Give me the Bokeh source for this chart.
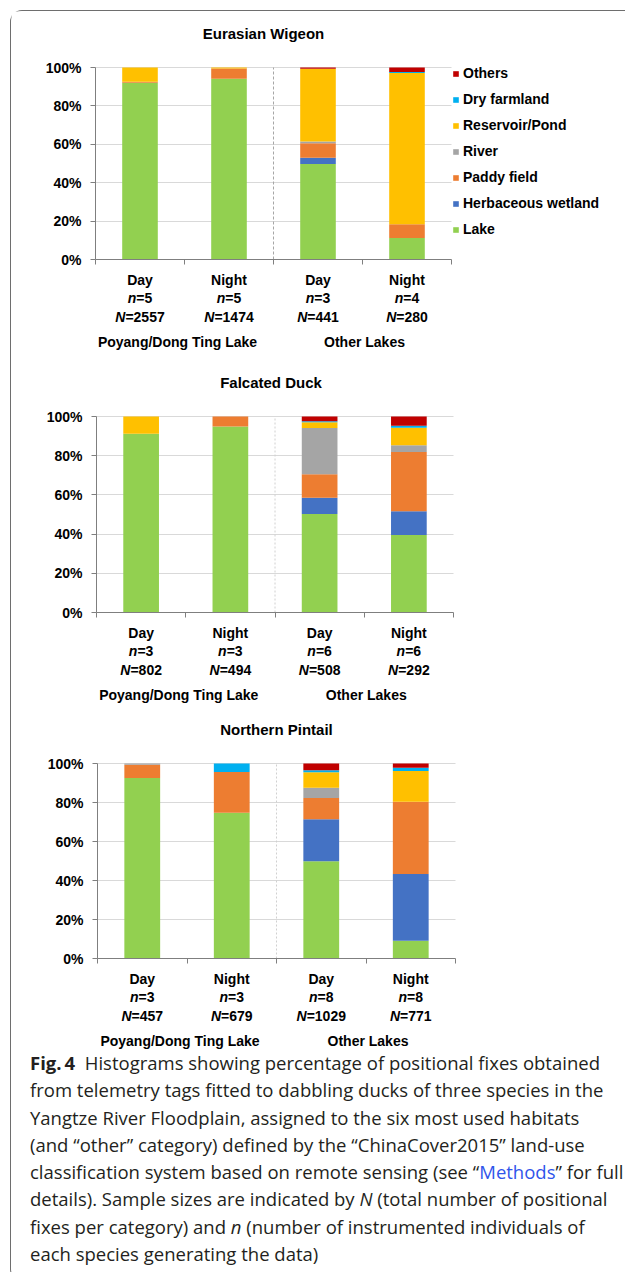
from bokeh.plotting import figure
from bokeh.models import (ColumnDataSource, Range1d, FixedTicker, PrintfTickFormatter,
                          Legend, LegendItem, LinearAxis, Grid, Div)
from bokeh.layouts import column
from bokeh.core.properties import value
from bokeh.embed import file_html
from bokeh.resources import INLINE

# ---------------------------------------------------------------- data
habitats = ["Lake", "Herbaceous wetland", "Paddy field", "River",
            "Reservoir/Pond", "Dry farmland", "Others"]
colors = ["#92D050", "#4472C4", "#ED7D31", "#A5A5A5", "#FFC000", "#00B0F0", "#C00000"]

periods = ["Day", "Night", "Day", "Night"]
groups = ["Poyang/Dong Ting Lake", "Other Lakes"]
y_ticks = [0, 20, 40, 60, 80, 100]

# Eurasian Wigeon: % of positional fixes per habitat
wigeon_lake = [92.0, 94.2, 49.7, 11.2]
wigeon_herb = [0.0, 0.0, 3.3, 0.0]
wigeon_paddy = [0.6, 5.3, 7.6, 7.2]
wigeon_river = [0.0, 0.0, 0.8, 0.0]
wigeon_reservoir = [7.4, 0.5, 37.9, 78.8]
wigeon_dry = [0.0, 0.0, 0.0, 0.4]
wigeon_others = [0.0, 0.0, 0.7, 2.4]
wigeon_n = [5, 5, 3, 4]
wigeon_N = [2557, 1474, 441, 280]

# Falcated Duck
falcated_lake = [91.2, 94.9, 50.3, 39.5]
falcated_herb = [0.0, 0.0, 8.3, 12.1]
falcated_paddy = [0.0, 5.1, 11.9, 30.3]
falcated_river = [0.0, 0.0, 23.6, 3.4]
falcated_reservoir = [8.8, 0.0, 3.0, 9.0]
falcated_dry = [0.0, 0.0, 0.5, 1.0]
falcated_others = [0.0, 0.0, 2.4, 4.7]
falcated_n = [3, 3, 6, 6]
falcated_N = [802, 494, 508, 292]

# Northern Pintail
pintail_lake = [92.6, 74.7, 49.9, 9.1]
pintail_herb = [0.0, 0.0, 21.5, 34.2]
pintail_paddy = [6.8, 20.9, 10.9, 37.1]
pintail_river = [0.6, 0.0, 5.3, 0.0]
pintail_reservoir = [0.0, 0.0, 7.9, 15.7]
pintail_dry = [0.0, 4.4, 1.0, 1.7]
pintail_others = [0.0, 0.0, 3.5, 2.2]
pintail_n = [3, 3, 8, 8]
pintail_N = [457, 679, 1029, 771]

# ---------------------------------------------------------------- helpers
FONT = "Liberation Sans"
FIG_W = 614
KEYS = ["h%d" % i for i in range(len(habitats))]
NCAT = len(periods)
XPOS = [i + 0.5 for i in range(NCAT)]
GROUP_EDGE = NCAT / len(groups)
GROUP_MID = [GROUP_EDGE * (i + 0.5) for i in range(len(groups))]

# Arial / Liberation Sans bold advance widths (em) for centring split labels
ADV = {"n": 0.611, "N": 0.722, "=": 0.584}
ADV.update({d: 0.556 for d in "0123456789"})


def split_offset(letter, rest, size=14):
    wl = ADV[letter] * size
    wr = sum(ADV[c] for c in rest) * size
    return -(wl + wr) / 2 + wl


def panel(title, series, n_vals, N_vals, height, left, right, top, bottom,
          title_dx, sep_color, sep_dash, legend_at=None):
    """left/right: canvas x of category edges 0 and NCAT;
    top/bottom: canvas y of 100% and 0%."""
    ppx = (right - left) / NCAT
    ppu = (bottom - top) / 100.0
    x0 = -left / ppx
    y1 = 100 + top / ppu
    p = figure(width=FIG_W, height=height,
               x_range=Range1d(x0, x0 + FIG_W / ppx),
               y_range=Range1d(y1 - height / ppu, y1),
               x_axis_type=None, y_axis_type=None,
               min_border=0, output_backend="svg", toolbar_location=None)
    p.outline_line_color = None
    p.background_fill_color = "white"
    p.border_fill_color = "white"

    # horizontal gridlines limited to the category span
    p.add_layout(Grid(dimension=1, ticker=FixedTicker(ticks=y_ticks[1:]),
                      grid_line_color="#D9D9D9", cross_bounds=(0, NCAT)))

    ya = LinearAxis(fixed_location=0, bounds=(0, 100),
                    ticker=FixedTicker(ticks=y_ticks),
                    formatter=PrintfTickFormatter(format="%d%%"),
                    major_label_text_font=FONT, major_label_text_font_style="bold",
                    major_label_text_font_size="14px", major_label_text_color="black",
                    major_tick_out=5, major_tick_in=0, minor_tick_line_color=None,
                    major_label_standoff=9, axis_line_color="#7F7F7F",
                    major_tick_line_color="#7F7F7F")
    p.add_layout(ya, "left")
    xa = LinearAxis(fixed_location=0, bounds=(0, NCAT),
                    ticker=FixedTicker(ticks=list(range(NCAT + 1))),
                    major_label_text_font_size="0px", major_label_text_alpha=0,
                    major_tick_out=5, major_tick_in=0, minor_tick_line_color=None,
                    axis_line_color="#7F7F7F", major_tick_line_color="#7F7F7F")
    p.add_layout(xa, "below")

    # dashed divider between the two lake groups
    p.segment(x0=[GROUP_EDGE], y0=[0], x1=[GROUP_EDGE], y1=[100],
              line_color=sep_color, line_dash=sep_dash, line_width=1)

    data = {"x": XPOS}
    for k, vals in zip(KEYS, series):
        data[k] = vals
    rs = p.vbar_stack(KEYS, x="x", width=0.4, color=colors,
                      source=ColumnDataSource(data), line_width=0)

    # species title
    p.text(x=[NCAT / 2 + title_dx / ppx], y=[100 + 34 / ppu], text=[title],
           text_align="center", text_baseline="middle", text_font=value(FONT),
           text_font_style="bold", text_font_size=value("15px"), text_color="black")

    # category labels below the axis
    common = dict(text_baseline="middle", text_font=value(FONT),
                  text_font_size=value("14px"), text_color="black")
    n_rest = ["=%d" % v for v in n_vals]
    N_rest = ["=%d" % v for v in N_vals]
    lbl = ColumnDataSource(dict(
        x=XPOS, y_period=[-20 / ppu] * NCAT, y_n=[-38 / ppu] * NCAT, y_N=[-57 / ppu] * NCAT,
        period=periods,
        n_letter=["n"] * NCAT, n_rest=n_rest, n_off=[split_offset("n", r) for r in n_rest],
        N_letter=["N"] * NCAT, N_rest=N_rest, N_off=[split_offset("N", r) for r in N_rest],
    ))
    p.text(x="x", y="y_period", text="period", source=lbl, text_align="center",
           text_font_style="bold", **common)
    for letter, rest, off, yy in (("n_letter", "n_rest", "n_off", "y_n"),
                                  ("N_letter", "N_rest", "N_off", "y_N")):
        p.text(x="x", y=yy, text=letter, x_offset=off, source=lbl, text_align="right",
               text_font_style="bold italic", **common)
        p.text(x="x", y=yy, text=rest, x_offset=off, source=lbl, text_align="left",
               text_font_style="bold", **common)

    gsrc = ColumnDataSource(dict(x=GROUP_MID, y=[-82 / ppu] * len(groups), text=groups,
                                 dx=[-7, 2]))
    p.text(x="x", y="y", text="text", x_offset="dx", source=gsrc, text_align="center",
           text_font_style="bold", **common)

    if legend_at is not None:
        items = [LegendItem(label=h, renderers=[r])
                 for h, r in reversed(list(zip(habitats, rs)))]
        legend = Legend(items=items, location=legend_at, orientation="vertical",
                        glyph_width=7, glyph_height=7, label_height=20, spacing=6,
                        padding=0, margin=0, label_standoff=4,
                        border_line_alpha=0, background_fill_alpha=0,
                        label_text_font=FONT, label_text_font_style="bold",
                        label_text_font_size="14px", label_text_color="black")
        p.add_layout(legend)
    return p


# canvas origin of every panel is page (11, panel_top)
p1 = panel("Eurasian Wigeon",
           [wigeon_lake, wigeon_herb, wigeon_paddy, wigeon_river,
            wigeon_reservoir, wigeon_dry, wigeon_others],
           wigeon_n, wigeon_N, height=349, left=84, right=440, top=56, bottom=248,
           title_dx=-10, sep_color="#A6A6A6", sep_dash="3 2", legend_at=(441, 121))
p2 = panel("Falcated Duck",
           [falcated_lake, falcated_herb, falcated_paddy, falcated_river,
            falcated_reservoir, falcated_dry, falcated_others],
           falcated_n, falcated_N, height=350, left=85, right=442, top=56, bottom=252,
           title_dx=-4, sep_color="#D0D0D0", sep_dash="2 2")
p3 = panel("Northern Pintail",
           [pintail_lake, pintail_herb, pintail_paddy, pintail_river,
            pintail_reservoir, pintail_dry, pintail_others],
           pintail_n, pintail_N, height=340, left=86, right=444, top=53, bottom=248,
           title_dx=0, sep_color="#D0D0D0", sep_dash="2 2")

caption_lines = [
    "<b>Fig.&#8201;4</b>&nbsp; Histograms showing percentage of positional fixes obtained",
    "from telemetry tags fitted to dabbling ducks of three species in the",
    "Yangtze River Floodplain, assigned to the six most used habitats",
    "(and \u201cother\u201d category) defined by the \u201cChinaCover2015\u201d land-use",
    "classification system based on remote sensing (see \u201c<span style=\"color:#2F54EB\">Methods</span>\u201d for full",
    "details). Sample sizes are indicated by <i>N</i> (total number of positional",
    "fixes per category) and <i>n</i> (number of instrumented individuals of",
    "each species generating the data)",
]
caption = Div(
    text=("<div style=\"font-family:'Open Sans'; font-size:18.5px; line-height:27.3px; "
          "color:#231F20; padding-left:14px; white-space:nowrap; position:relative; top:-6px;\">"
          + "<br>".join(caption_lines) + "</div>"),
    width=FIG_W, height=220)

root = column(p1, p2, p3, caption, margin=(10, 0, 0, 10),
              styles={"border-left": "1px solid #6E6E6E",
                      "border-top": "1px solid #6E6E6E",
                      "border-bottom": "1px solid #6E6E6E",
                      "border-top-left-radius": "12px",
                      "border-bottom-left-radius": "12px",
                      "background": "white"})

open("out.html", "w").write(file_html(root, INLINE))
